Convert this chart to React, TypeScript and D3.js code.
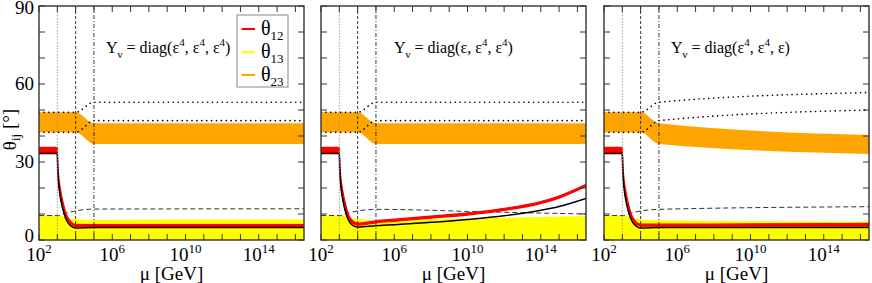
import React from "react";
import * as d3 from "d3";

const W = 872;
const H = 283;
const TOP = 6;
const BOTTOM = 240;
const PANEL_LEFT = [39, 321, 604];
const PANEL_W = 265;
const FONT = "Liberation Serif";

// log10(mu / GeV) range and ticks
const MU_RANGE = [2, 16.47];
const X_TICKS = d3.range(2, 17);
const X_LABELS = [2, 6, 10, 14];
const Y_TICKS = d3.range(0, 91, 10);
const Y_LABELS = [0, 30, 60, 90];
const THRESHOLDS = [3, 4, 5];

const LEGEND = [
  { sub: "12", color: "#ff0000" },
  { sub: "13", color: "#ffff00" },
  { sub: "23", color: "#ffa500" },
];

// theta23 band + dotted bounds
const B23_X = [2, 4, 5, 16.47];
const B23_HI = [49.1, 49.1, 44.9, 44.9];
const B23_LO = [41.4, 41.4, 36.9, 36.9];
const B23_HI_C = [49.1, 49.1, 44.9, 40.4];
const B23_LO_C = [41.4, 41.4, 36.9, 33.1];
const DOT_UP = [49.1, 49.1, 53.0, 53.0];
const DOT_LO = [41.4, 41.4, 45.9, 45.9];
const DOT_UP_C = [49.1, 49.1, 53.0, 56.7];
const DOT_LO_C = [41.4, 41.4, 45.9, 50.0];

// theta12 band and black curve
const R_X = [2, 3, 3.02, 3.06, 3.12, 3.2, 3.35, 3.53, 3.75, 4, 5, 7, 10, 14, 16.47];
const R_HI_A = [35.6, 35.6, 31, 26, 22, 18.5, 13.5, 9.3, 7.0, 6.0, 5.9, 5.9, 5.9, 5.9, 5.9];
const R_LO_A = [33.4, 33.4, 28.5, 23.5, 19.5, 16, 11.5, 8.0, 6.0, 5.2, 5.2, 5.2, 5.2, 5.2, 5.2];
const K_A = [33.3, 33.3, 27.5, 22.5, 18.5, 15, 10.6, 7.2, 5.4, 4.6, 4.8, 4.8, 4.8, 4.8, 4.8];

const RB_X = [2, 3, 3.02, 3.06, 3.12, 3.2, 3.35, 3.53, 3.75, 4, 5, 6, 7, 8, 10, 12, 14, 15, 16.47];
const R_HI_B = [35.6, 35.6, 31, 26, 22, 18.5, 13.5, 9.3, 7.3, 6.5, 7.4, 8.0, 8.6, 9.2, 10.4, 12.2, 14.8, 16.9, 21.4];
const R_LO_B = [33.4, 33.4, 28.5, 23.5, 19.5, 16, 11.5, 8.0, 6.3, 5.7, 6.6, 7.2, 7.8, 8.4, 9.6, 11.4, 14.0, 16.1, 20.6];
const K_B = [33.3, 33.3, 27.5, 22.5, 18.5, 15, 10.6, 7.2, 5.5, 5.0, 5.5, 5.9, 6.3, 6.8, 7.9, 9.3, 11.4, 12.9, 16.0];

const R_HI_C = [35.6, 35.6, 31, 26, 22, 18.5, 13.5, 9.3, 7.0, 6.1, 6.1, 6.1, 6.2, 6.3, 6.4];
const R_LO_C = [33.4, 33.4, 28.5, 23.5, 19.5, 16, 11.5, 8.0, 6.0, 5.3, 5.3, 5.3, 5.3, 5.3, 5.3];
const K_C = [33.3, 33.3, 27.5, 22.5, 18.5, 15, 10.6, 7.2, 5.4, 4.6, 4.8, 4.8, 4.8, 4.8, 4.8];

// dashed curve
const D_X_A = [2, 3, 3.5, 4, 4.5, 5, 16.47];
const D_A = [9.4, 9.4, 10.4, 11.2, 11.7, 11.9, 12.0];
const D_X_B = [2, 3, 3.5, 4, 4.5, 5, 7, 10, 13, 16.47];
const D_B = [9.4, 9.4, 10.4, 11.2, 11.6, 11.8, 11.6, 11.0, 10.5, 10.0];
const D_C = [9.4, 9.4, 10.4, 11.2, 11.6, 11.8, 12.8];

// theta13 band (from zero)
const Y13_X = [2, 3, 4, 5, 16.47];
const Y13_A = [9.5, 9.5, 8.0, 7.8, 7.9];
const Y13_X_B = [2, 3, 4, 5, 10, 16.47];
const Y13_B = [9.5, 9.5, 8.1, 7.7, 8.3, 9.2];
const Y13_C = [9.5, 9.5, 8.0, 7.6, 7.0];

const PANELS = [
  {
    left: PANEL_LEFT[0], b23hi: B23_HI, b23lo: B23_LO, dotUp: DOT_UP, dotLo: DOT_LO,
    rx: R_X, rhi: R_HI_A, rlo: R_LO_A, k: K_A, dx: D_X_A, d: D_A, yx: Y13_X, y13: Y13_A,
    label: ["4", "4", "4"], textX: 106, legend: true,
  },
  {
    left: PANEL_LEFT[1], b23hi: B23_HI, b23lo: B23_LO, dotUp: DOT_UP, dotLo: DOT_LO,
    rx: RB_X, rhi: R_HI_B, rlo: R_LO_B, k: K_B, dx: D_X_B, d: D_B, yx: Y13_X_B, y13: Y13_B,
    label: ["", "4", "4"], textX: 394, legend: false,
  },
  {
    left: PANEL_LEFT[2], b23hi: B23_HI_C, b23lo: B23_LO_C, dotUp: DOT_UP_C, dotLo: DOT_LO_C,
    rx: R_X, rhi: R_HI_C, rlo: R_LO_C, k: K_C, dx: D_X_A, d: D_C, yx: Y13_X, y13: Y13_C,
    label: ["4", "4", ""], textX: 671, legend: false,
  },
];

const y = d3.scaleLinear().domain([0, 90]).range([BOTTOM, TOP]);

function Panel({ p, idx }: { p: any; idx: number }) {
  const x = d3
    .scaleLog()
    .domain([10 ** MU_RANGE[0], 10 ** MU_RANGE[1]])
    .range([p.left, p.left + PANEL_W]);
  const band = (xs: number[], lo: number[], hi: number[]) =>
    d3
      .area<number>()
      .x((_, i) => x(10 ** xs[i]))
      .y0((_, i) => y(lo[i]))
      .y1((_, i) => y(hi[i]))
      .curve(d3.curveMonotoneX)(xs) as string;
  const line = (xs: number[], v: number[]) =>
    d3
      .line<number>()
      .x((_, i) => x(10 ** xs[i]))
      .y((_, i) => y(v[i]))
      .curve(d3.curveMonotoneX)(xs) as string;
  const zeros = p.yx.map(() => 0);
  const clip = `clip${idx}`;
  const right = p.left + PANEL_W;
  const cx = p.left + PANEL_W / 2;
  const vStyles = [
    { stroke: "#999", dash: "1.5,1.5" },
    { stroke: "#222", dash: "3,2" },
    { stroke: "#222", dash: "4,2,1,2" },
  ];

  return (
    <g>
      <defs>
        <clipPath id={clip}>
          <rect x={p.left} y={TOP} width={PANEL_W} height={BOTTOM - TOP} />
        </clipPath>
      </defs>
      <g clipPath={`url(#${clip})`}>
        <path d={band(p.yx, zeros, p.y13)} fill="#ffff00" />
        <path d={band(B23_X, p.b23lo, p.b23hi)} fill="#ffa500" />
        <path d={line(p.dx, p.d)} fill="none" stroke="#333" strokeWidth={1} strokeDasharray="5,3" />
        {[p.dotUp, p.dotLo].map((v: number[], i: number) => (
          <path key={i} d={line(B23_X, v)} fill="none" stroke="#000" strokeWidth={1.6}
            strokeDasharray="0.1,4.8" strokeLinecap="round" />
        ))}
        <path d={band(p.rx, p.rlo, p.rhi)} fill="#ff0000" stroke="#ff0000" strokeWidth={1.2} />
        <path d={line(p.rx, p.k)} fill="none" stroke="#000" strokeWidth={1.5} />
        {THRESHOLDS.map((t, i) => (
          <line key={t} x1={x(10 ** t)} x2={x(10 ** t)} y1={TOP} y2={BOTTOM}
            stroke={vStyles[i].stroke} strokeWidth={0.9} strokeDasharray={vStyles[i].dash} />
        ))}
      </g>
      {/* frame and ticks */}
      <rect x={p.left} y={TOP} width={PANEL_W} height={BOTTOM - TOP} fill="none" stroke="#333" strokeWidth={1.4} />
      {X_TICKS.map((t) => (
        <g key={t} stroke="#333" strokeWidth={1}>
          <line x1={x(10 ** t)} x2={x(10 ** t)} y1={BOTTOM} y2={BOTTOM - 6} />
          <line x1={x(10 ** t)} x2={x(10 ** t)} y1={TOP} y2={TOP + 6} />
        </g>
      ))}
      {Y_TICKS.map((t) => (
        <g key={t} stroke="#333" strokeWidth={1}>
          <line x1={p.left} x2={p.left + 6} y1={y(t)} y2={y(t)} />
          <line x1={right} x2={right - 6} y1={y(t)} y2={y(t)} />
        </g>
      ))}
      {X_LABELS.map((t) => (
        <text key={t} x={x(10 ** t)} y={261} textAnchor="middle" fontSize={19} fontFamily={FONT}>
          10<tspan dy={-8} fontSize={13}>{t}</tspan>
        </text>
      ))}
      <text x={cx} y={280} textAnchor="middle" fontSize={19} fontFamily={FONT}>
        μ [GeV]
      </text>
      {idx === 0 &&
        Y_LABELS.map((t) => (
          <text key={t} x={34} y={y(t) + (t === 0 ? 2 : t === 90 ? 8 : 6)} textAnchor="end" fontSize={19} fontFamily={FONT}>
            {t}
          </text>
        ))}
      <text x={p.textX} y={53} fontSize={16} fontFamily={FONT}>
        Y<tspan dy={5} fontSize={11}>ν</tspan>
        <tspan dy={-5}>{"  = diag(ε"}</tspan>
        {p.label[0] ? <tspan dy={-7} fontSize={11}>{p.label[0]}</tspan> : null}
        <tspan dy={p.label[0] ? 7 : 0}>{", ε"}</tspan>
        {p.label[1] ? <tspan dy={-7} fontSize={11}>{p.label[1]}</tspan> : null}
        <tspan dy={p.label[1] ? 7 : 0}>{", ε"}</tspan>
        {p.label[2] ? <tspan dy={-7} fontSize={11}>{p.label[2]}</tspan> : null}
        <tspan dy={p.label[2] ? 7 : 0}>{")"}</tspan>
      </text>
      {p.legend && (
        <g>
          <rect x={237} y={15} width={51} height={72} fill="#fff" stroke="#888" strokeWidth={1} />
          {LEGEND.map((s, i) => (
            <g key={s.sub}>
              <line x1={241.5} x2={255} y1={29 + i * 23} y2={29 + i * 23} stroke={s.color} strokeWidth={2} />
              <text x={261} y={35 + i * 23} fontSize={20} fontFamily={FONT}>
                θ<tspan dy={5} fontSize={13}>{s.sub}</tspan>
              </text>
            </g>
          ))}
        </g>
      )}
    </g>
  );
}

export default function App() {
  return (
    <svg width={W} height={H} style={{ position: "absolute", left: 0, top: 0, background: "#fff" }}>
      <rect width={W} height={H} fill="#fff" />
      {PANELS.map((p, i) => (
        <Panel key={i} p={p} idx={i} />
      ))}
      <text transform={`translate(16,${y(42.5)}) rotate(-90)`} textAnchor="middle" fontSize={19} fontFamily={FONT}>
        θ<tspan dy={4} fontSize={13}>ij</tspan>
        <tspan dy={-4}> [°]</tspan>
      </text>
    </svg>
  );
}
